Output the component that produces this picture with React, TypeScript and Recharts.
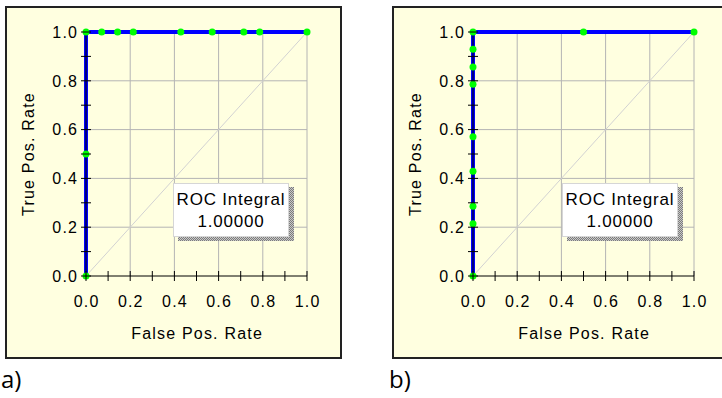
import React from 'react';
import { ComposedChart, Line, XAxis, YAxis, CartesianGrid, ReferenceLine, Label } from 'recharts';

const AXIS_TICKS = [0, 0.1, 0.2, 0.3, 0.4, 0.5, 0.6, 0.7, 0.8, 0.9, 1.0];
const GRID_VALUES = [0.2, 0.4, 0.6, 0.8, 1.0];

const ROC_A_FPR = [0, 0, 0, 0.071, 0.143, 0.214, 0.429, 0.571, 0.714, 0.786, 1.0];
const ROC_A_TPR = [0, 0.5, 1, 1, 1, 1, 1, 1, 1, 1, 1];

const ROC_B_FPR = [0, 0, 0, 0, 0, 0, 0, 0, 0, 0.5, 1.0];
const ROC_B_TPR = [0, 0.214, 0.286, 0.429, 0.571, 0.786, 0.857, 0.929, 1, 1, 1];

const X_TITLE = 'False Pos. Rate';
const Y_TITLE = 'True Pos. Rate';
const BOX_TITLE = 'ROC Integral';
const ROC_INTEGRAL_A = '1.00000';
const ROC_INTEGRAL_B = '1.00000';

const FONT = '"Liberation Sans", Arial, sans-serif';
const FS = 16;
const LS = 1.2;

const isMajor = (v: number) => Math.round(v * 10) % 2 === 0;

const XTick = (props: any) => {
  const { x, y, payload } = props;
  const v = payload.value as number;
  return (
    <g>
      <line x1={x} y1={y - 5} x2={x} y2={y + 5} stroke="#000" strokeWidth={1} />
      {isMajor(v) && (
        <text x={x + LS / 2} y={y + 30.5} textAnchor="middle" fontFamily={FONT} fontSize={FS} fill="#000" style={{ letterSpacing: `${LS}px` }}>
          {v.toFixed(1)}
        </text>
      )}
    </g>
  );
};

const YTick = (props: any) => {
  const { x, y, payload } = props;
  const v = payload.value as number;
  return (
    <g>
      <line x1={x - 5} y1={y} x2={x + 5} y2={y} stroke="#000" strokeWidth={1} />
      {isMajor(v) && (
        <text x={x - 7.8} y={y + 5.7} textAnchor="end" fontFamily={FONT} fontSize={FS} fill="#000" style={{ letterSpacing: `${LS}px` }}>
          {v.toFixed(1)}
        </text>
      )}
    </g>
  );
};

const XTitle = (props: any) => {
  const vb = props.viewBox;
  return (
    <text x={vb.x + vb.width / 2 + LS / 2} y={vb.y + 63} textAnchor="middle" fontFamily={FONT} fontSize={FS} fill="#000" style={{ letterSpacing: `${LS}px` }}>
      {X_TITLE}
    </text>
  );
};

const YTitle = (props: any) => {
  const vb = props.viewBox;
  const cx = vb.x + 2;
  const cy = vb.y + vb.height / 2;
  return (
    <text x={cx} y={cy} transform={`rotate(-90 ${cx} ${cy})`} dy={5.7} textAnchor="middle" fontFamily={FONT} fontSize={FS} fill="#000" style={{ letterSpacing: `${LS}px` }}>
      {Y_TITLE}
    </text>
  );
};

type RocProps = { fpr: number[]; tpr: number[]; left: number; marginLeft: number; marginRight: number };

const RocChart = ({ fpr, tpr, left, marginLeft, marginRight }: RocProps) => {
  const data = fpr.map((x, i) => ({ x, y: tpr[i] }));
  return (
    <div style={{ position: 'absolute', left, top: 0 }}>
      <ComposedChart width={361} height={398} data={data} margin={{ top: 32, right: marginRight, bottom: 62, left: marginLeft }}>
        <CartesianGrid stroke="#b4b4b4" verticalValues={GRID_VALUES} horizontalValues={GRID_VALUES} />
        <ReferenceLine segment={[{ x: 0, y: 0 }, { x: 1, y: 1 }]} stroke="#d2d2d2" strokeWidth={1} ifOverflow="visible" />
        <XAxis
          type="number"
          dataKey="x"
          domain={[0, 1]}
          ticks={AXIS_TICKS}
          interval={0}
          height={60}
          tickSize={0}
          tickMargin={0}
          tickLine={false}
          axisLine={{ stroke: '#000', strokeWidth: 1 }}
          tick={<XTick />}
        >
          <Label content={<XTitle />} />
        </XAxis>
        <YAxis
          type="number"
          dataKey="y"
          domain={[0, 1]}
          ticks={AXIS_TICKS}
          interval={0}
          width={60}
          tickSize={0}
          tickMargin={0}
          tickLine={false}
          axisLine={{ stroke: '#000', strokeWidth: 1 }}
          tick={<YTick />}
        >
          <Label content={<YTitle />} />
        </YAxis>
        <Line
          type="linear"
          dataKey="y"
          stroke="#0000ff"
          strokeWidth={4}
          dot={{ r: 3.5, fill: '#00ff00', stroke: 'none' }}
          activeDot={false}
          isAnimationActive={false}
        />
      </ComposedChart>
    </div>
  );
};

const RocBox = ({ left, top, value }: { left: number; top: number; value: string }) => (
  <>
    <div
      style={{
        position: 'absolute',
        left: left + 5,
        top: top + 4,
        width: 116,
        height: 54,
        background: 'repeating-conic-gradient(#7c7c7c 0 25%, #c8c8c8 0 50%) 0 0 / 2px 2px',
      }}
    />
    <div
      style={{
        position: 'absolute',
        left,
        top,
        width: 116,
        height: 54,
        boxSizing: 'border-box',
        background: '#fff',
        border: '1px solid #d6d6d6',
        fontFamily: FONT,
        fontSize: 17,
        color: '#000',
        textAlign: 'center',
        letterSpacing: '0.8px',
      }}
    >
      <div style={{ position: 'absolute', left: 0, right: 0, top: 5, lineHeight: '22px' }}>{BOX_TITLE}</div>
      <div style={{ position: 'absolute', left: 0, right: 0, top: 27, lineHeight: '22px' }}>{value}</div>
    </div>
  </>
);

const panelStyle = (left: number, width: number): React.CSSProperties => ({
  position: 'absolute',
  left,
  top: 6,
  width,
  height: 353,
  boxSizing: 'border-box',
  background: '#ffffe0',
  border: '2px solid #222',
});

const captionStyle = (left: number): React.CSSProperties => ({
  position: 'absolute',
  left,
  top: 367,
  fontFamily: '"Open Sans", "Noto Sans", sans-serif',
  fontSize: 24,
  lineHeight: '24px',
  color: '#000',
});

export default function App() {
  return (
    <div style={{ position: 'absolute', left: 0, top: 0, width: 722, height: 398, overflow: 'hidden', background: '#fff' }}>
      <div style={panelStyle(5, 337)} />
      <div style={panelStyle(392, 334)} />
      <RocChart fpr={ROC_A_FPR} tpr={ROC_A_TPR} left={0} marginLeft={26} marginRight={54} />
      <RocChart fpr={ROC_B_FPR} tpr={ROC_B_TPR} left={361} marginLeft={52} marginRight={28} />
      <RocBox left={173} top={183} value={ROC_INTEGRAL_A} />
      <RocBox left={562} top={183} value={ROC_INTEGRAL_B} />
      <div style={captionStyle(1)}>a)</div>
      <div style={captionStyle(389)}>b)</div>
    </div>
  );
}
